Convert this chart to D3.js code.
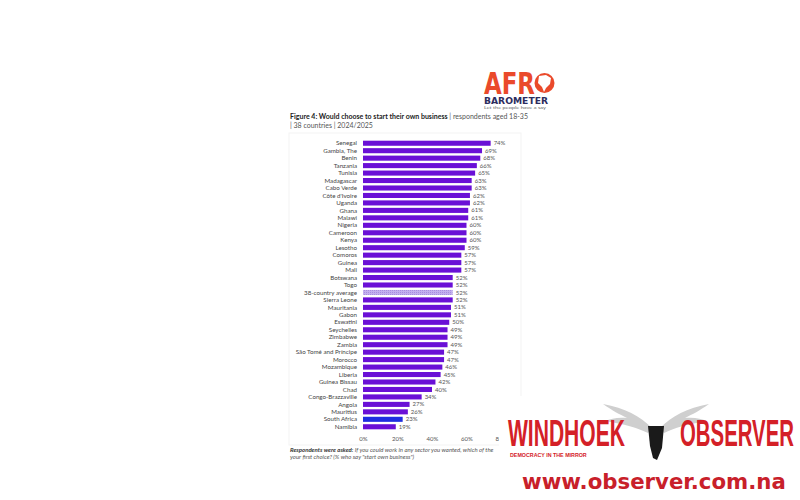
<!DOCTYPE html>
<html><head><meta charset="utf-8">
<script src="https://cdn.jsdelivr.net/npm/d3@7"></script>
<style>body{margin:0;background:#fff}svg{display:block}</style>
</head><body>
<svg id="c" width="800" height="500"></svg>
<script>
const countries = ["Senegal","Gambia, The","Benin","Tanzania","Tunisia","Madagascar","Cabo Verde","Côte d'Ivoire","Uganda","Ghana","Malawi","Nigeria","Cameroon","Kenya","Lesotho","Comoros","Guinea","Mali","Botswana","Togo","38-country average","Sierra Leone","Mauritania","Gabon","Eswatini","Seychelles","Zimbabwe","Zambia","São Tomé and Príncipe","Morocco","Mozambique","Liberia","Guinea Bissau","Chad","Congo-Brazzaville","Angola","Mauritius","South Africa","Namibia"];
const values = [74,69,68,66,65,63,63,62,62,61,61,60,60,60,59,57,57,57,52,52,52,52,51,51,50,49,49,49,47,47,46,45,42,40,34,27,26,23,19];
const xTicks = [0,20,40,60,80];

const svg = d3.select("#c");
const font = "Lato, 'Open Sans', sans-serif";

const defs = svg.append("defs");
const pat = defs.append("pattern").attr("id","hatch").attr("width",2).attr("height",2).attr("patternUnits","userSpaceOnUse");
pat.append("rect").attr("width",2).attr("height",2).attr("fill","#c3b0ee");
pat.append("rect").attr("width",1).attr("height",1).attr("fill","#a88ee0");

// faint chart box
svg.append("rect").attr("x",289).attr("y",133).attr("width",232).attr("height",312)
  .attr("fill","none").attr("stroke","#f3f3f3").attr("stroke-width",1);

// title
const t1 = svg.append("text").attr("x",290).attr("y",119).attr("font-family",font).attr("font-size",7).attr("fill","#222");
t1.append("tspan").attr("font-weight","bold").text("Figure 4: Would choose to start their own business");
t1.append("tspan").attr("fill","#555").text(" | respondents aged 18-35");
svg.append("text").attr("x",290).attr("y",128).attr("font-family",font).attr("font-size",7).attr("fill","#555")
  .text("| 38 countries | 2024/2025");

const x = d3.scaleLinear().domain([0,80]).range([363,501]);
const y = d3.scaleBand().domain(countries).range([139.5,430.5]).paddingInner(0.32).paddingOuter(0.16);

const colorFor = c => c === "38-country average" ? "url(#hatch)" : (c === "South Africa" ? "#1f2ee0" : "#6a10d6");

const g = svg.append("g");
g.selectAll("rect.bar").data(countries).join("rect").attr("class","bar")
  .attr("x",x(0)).attr("y",d=>y(d)).attr("height",y.bandwidth())
  .attr("width",(d,i)=>x(values[i])-x(0)).attr("fill",d=>colorFor(d));

g.selectAll("text.lab").data(countries).join("text").attr("class","lab")
  .attr("x",357).attr("y",d=>y(d)+y.bandwidth()/2).attr("dy","0.35em")
  .attr("text-anchor","end").attr("font-family",font).attr("font-size",6.2).attr("fill","#444").text(d=>d);

g.selectAll("text.val").data(countries).join("text").attr("class","val")
  .attr("x",(d,i)=>x(values[i])+3).attr("y",d=>y(d)+y.bandwidth()/2).attr("dy","0.35em")
  .attr("font-family",font).attr("font-size",6).attr("fill","#555").text((d,i)=>values[i]+"%");

const ax = svg.append("g").attr("transform","translate(0,434)")
  .call(d3.axisBottom(x).tickValues(xTicks).tickSize(0).tickFormat(d=>d+"%"));
ax.select(".domain").remove();
ax.selectAll("text").attr("font-family",font).attr("font-size",6).attr("fill","#555");

// footnote
const f1 = svg.append("text").attr("x",290).attr("y",452).attr("font-family",font).attr("font-size",6).attr("fill","#333").attr("font-style","italic");
f1.append("tspan").attr("font-weight","bold").text("Respondents were asked:");
f1.append("tspan").attr("fill","#555").text(" If you could work in any sector you wanted, which of the");
svg.append("text").attr("x",290).attr("y",459).attr("font-family",font).attr("font-size",6).attr("fill","#555").attr("font-style","italic")
  .text("your first choice? (% who say \"start own business\")");

// helper: text fitted horizontally to a target width via scaling
function fitText(txt, x0, y0, size, width, family, color, weight, sy) {
  const gg = svg.append("g");
  const t = gg.append("text").attr("font-family",family).attr("font-weight",weight||"bold")
    .attr("font-size",size).attr("fill",color).text(txt);
  const L = t.node().getComputedTextLength();
  gg.attr("transform",`translate(${x0},${y0}) scale(${width/L},${sy||1})`);
  return gg;
}

// Afrobarometer logo
fitText("AFR",484,94,22,51,"'DejaVu Sans', sans-serif","#ea4a2b","bold",1.4);
svg.append("circle").attr("cx",544.5).attr("cy",83).attr("r",10).attr("fill","#ea4a2b");
svg.append("path").attr("d","M539,76 L546,75 L551,78 L550,84 L546,88 L544,92 L542,87 L538,83 Z").attr("fill","#fff");
fitText("BAROMETER",484,103.5,8,64,"'DejaVu Sans', sans-serif","#2c2d5e","bold",1);
fitText("Let the people have a say",484,109,4.3,62,font,"#666","normal",1);

// Windhoek Observer overlay
svg.append("rect").attr("x",499).attr("y",396).attr("width",301).attr("height",104).attr("fill","#fff");
svg.append("path").attr("d","M652,428 C640,416 625,408 603,404 C613,411 619,414 627,418 C617,417 611,419 605,421 C624,424 638,428 648,433 Z").attr("fill","#cfcfcf");
svg.append("path").attr("d","M660,428 C672,416 687,408 709,404 C699,411 693,414 685,418 C695,417 701,419 707,421 C688,424 674,428 664,433 Z").attr("fill","#cfcfcf");
svg.append("path").attr("d","M648,426 L664,426 L662,448 L657,460 L653,458 L650,446 Z").attr("fill","#1a1a1a");
const wfont = "'Liberation Sans Narrow', 'Liberation Sans', Arial, sans-serif";
fitText("WINDHOEK",508,446,28,117,wfont,"#d42027","bold",1.35);
fitText("OBSERVER",680,446,28,114,wfont,"#d42027","bold",1.35);
fitText("DEMOCRACY IN THE MIRROR",510,457,6,77,wfont,"#d42027","bold",1);
fitText("www.observer.com.na",522,489,22,264,"'DejaVu Sans', sans-serif","#c8202a","bold",1);
</script>
</body></html>
